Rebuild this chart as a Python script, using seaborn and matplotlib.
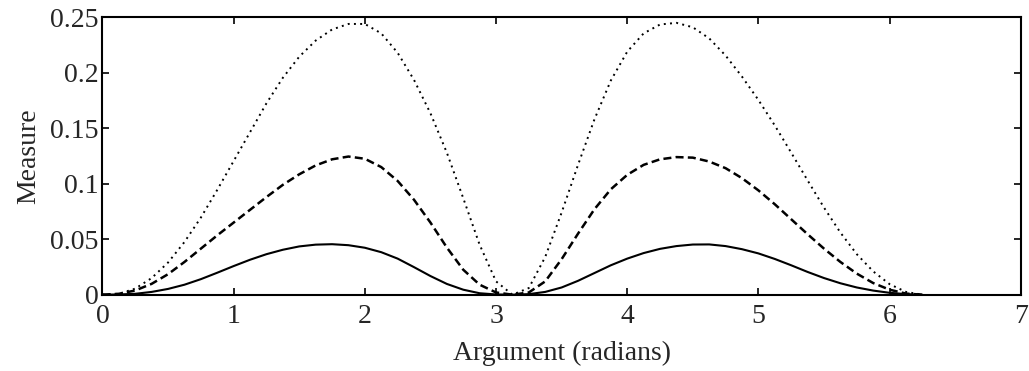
import matplotlib
matplotlib.use("Agg")
import matplotlib.pyplot as plt
import seaborn as sns
import pandas as pd

# Argument grid (radians) and the three measure curves
argument = [
    0.000, 0.125, 0.250, 0.375, 0.500, 0.625, 0.750, 0.875, 1.000, 1.125,
    1.250, 1.375, 1.500, 1.625, 1.750, 1.875, 2.000, 2.125, 2.250, 2.375,
    2.500, 2.625, 2.750, 2.875, 3.000, 3.125, 3.250, 3.375, 3.500, 3.625,
    3.750, 3.875, 4.000, 4.125, 4.250, 4.375, 4.500, 4.625, 4.750, 4.875,
    5.000, 5.125, 5.250, 5.375, 5.500, 5.625, 5.750, 5.875, 6.000, 6.125,
    6.250,
]

measure_solid = [
    0.0000, 0.0002, 0.0008, 0.0025, 0.0052, 0.0090, 0.0140, 0.0198, 0.0258, 0.0315,
    0.0365, 0.0405, 0.0435, 0.0451, 0.0455, 0.0446, 0.0423, 0.0383, 0.0325, 0.0248,
    0.0168, 0.0097, 0.0045, 0.0013, 0.0002, 0.0000, 0.0005, 0.0025, 0.0065, 0.0125,
    0.0195, 0.0265, 0.0325, 0.0375, 0.0413, 0.0438, 0.0452, 0.0453, 0.0438, 0.0410,
    0.0372, 0.0322, 0.0265, 0.0205, 0.0150, 0.0103, 0.0065, 0.0037, 0.0017, 0.0005,
    0.0000,
]

measure_dashed = [
    0.0000, 0.0008, 0.0038, 0.0098, 0.0185, 0.0295, 0.0415, 0.0535, 0.0650, 0.0765,
    0.0880, 0.0990, 0.1085, 0.1165, 0.1220, 0.1245, 0.1225, 0.1150, 0.1025, 0.0855,
    0.0650, 0.0425, 0.0225, 0.0090, 0.0020, 0.0000, 0.0020, 0.0120, 0.0320, 0.0550,
    0.0770, 0.0950, 0.1080, 0.1170, 0.1220, 0.1240, 0.1235, 0.1200, 0.1140, 0.1050,
    0.0940, 0.0815, 0.0680, 0.0545, 0.0415, 0.0295, 0.0190, 0.0105, 0.0045, 0.0010,
    0.0000,
]

measure_dotted = [
    0.0000, 0.0008, 0.0055, 0.0150, 0.0290, 0.0475, 0.0695, 0.0945, 0.1205, 0.1465,
    0.1725, 0.1955, 0.2145, 0.2290, 0.2390, 0.2440, 0.2440, 0.2355, 0.2180, 0.1935,
    0.1635, 0.1280, 0.0870, 0.0450, 0.0120, 0.0000, 0.0060, 0.0340, 0.0740, 0.1170,
    0.1580, 0.1930, 0.2190, 0.2355, 0.2435, 0.2450, 0.2410, 0.2310, 0.2155, 0.1965,
    0.1755, 0.1525, 0.1280, 0.1030, 0.0785, 0.0560, 0.0365, 0.0210, 0.0095, 0.0025,
    0.0000,
]

x_ticks = [0, 1, 2, 3, 4, 5, 6, 7]
y_ticks = [0, 0.05, 0.1, 0.15, 0.2, 0.25]
y_tick_labels = ["0", "0.05", "0.1", "0.15", "0.2", "0.25"]

sns.set_theme(style="white")
plt.rcParams["font.family"] = ["Liberation Serif", "DejaVu Serif"]

df = pd.DataFrame({
    "arg": argument,
    "solid": measure_solid,
    "dashed": measure_dashed,
    "dotted": measure_dotted,
})

fig = plt.figure(figsize=(10.29, 3.71), dpi=100)
ax = fig.add_axes([0.0996, 0.2057, 0.8924, 0.7477])

sns.lineplot(data=df, x="arg", y="solid", ax=ax, color="black",
             linewidth=1.5, linestyle="-")
sns.lineplot(data=df, x="arg", y="dashed", ax=ax, color="black",
             linewidth=1.8, linestyle=(0, (3.2, 1.7)))
sns.lineplot(data=df, x="arg", y="dotted", ax=ax, color="black",
             linewidth=1.4, linestyle=(0, (1, 2.2)))

ax.set_xlim(0, 7)
ax.set_ylim(0, 0.25)
ax.set_xticks(x_ticks)
ax.set_xticklabels([str(t) for t in x_ticks])
ax.set_yticks(y_ticks)
ax.set_yticklabels(y_tick_labels)

ax.tick_params(axis="both", which="major", direction="in", length=5,
               width=1.2, color="black", labelsize=20, top=True, right=True,
               bottom=True, left=True)
ax.tick_params(axis="x", pad=7)
ax.tick_params(axis="y", pad=3)

for spine in ax.spines.values():
    spine.set_visible(True)
    spine.set_color("black")
    spine.set_linewidth(1.5)

ax.set_xlabel("Argument (radians)", fontsize=20, labelpad=8)
ax.set_ylabel("Measure", fontsize=20, labelpad=6)

fig.savefig("out.png", dpi=100, facecolor="white")
